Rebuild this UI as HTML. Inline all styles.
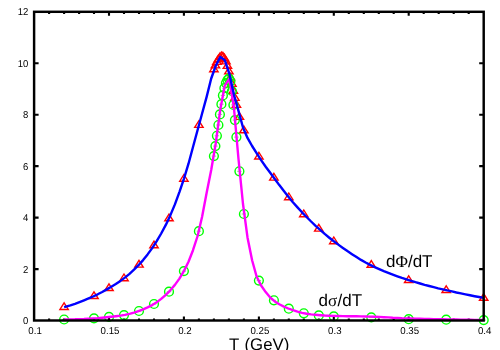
<!DOCTYPE html>
<html><head><meta charset="utf-8"><title>chart</title>
<style>
html,body{margin:0;padding:0;background:#fff;}
body{width:500px;height:350px;overflow:hidden;}
svg{display:block;will-change:transform;}
text{font-family:"Liberation Sans",sans-serif;fill:#000;text-rendering:geometricPrecision;}
.tk{font-size:10px;}
.lb{font-size:17px;}
.cd{stroke-width:0.8;stroke-opacity:0.75;}
.gr{font-family:"Liberation Serif",serif;}
</style></head><body>
<svg width="500" height="350" viewBox="0 0 500 350">
<rect width="500" height="350" fill="#fff"/>
<path d="M49.1,320.5v-2.1M49.1,11.8v2.1M64.1,320.5v-2.1M64.1,11.8v2.1M79.1,320.5v-2.1M79.1,11.8v2.1M94.0,320.5v-2.1M94.0,11.8v2.1M109.0,320.5v-3.9M109.0,11.8v3.9M124.0,320.5v-2.1M124.0,11.8v2.1M139.0,320.5v-2.1M139.0,11.8v2.1M154.0,320.5v-2.1M154.0,11.8v2.1M169.0,320.5v-2.1M169.0,11.8v2.1M183.9,320.5v-3.9M183.9,11.8v3.9M198.9,320.5v-2.1M198.9,11.8v2.1M213.9,320.5v-2.1M213.9,11.8v2.1M228.9,320.5v-2.1M228.9,11.8v2.1M243.9,320.5v-2.1M243.9,11.8v2.1M258.9,320.5v-3.9M258.9,11.8v3.9M273.9,320.5v-2.1M273.9,11.8v2.1M288.8,320.5v-2.1M288.8,11.8v2.1M303.8,320.5v-2.1M303.8,11.8v2.1M318.8,320.5v-2.1M318.8,11.8v2.1M333.8,320.5v-3.9M333.8,11.8v3.9M348.8,320.5v-2.1M348.8,11.8v2.1M363.8,320.5v-2.1M363.8,11.8v2.1M378.8,320.5v-2.1M378.8,11.8v2.1M393.7,320.5v-2.1M393.7,11.8v2.1M408.7,320.5v-3.9M408.7,11.8v3.9M423.7,320.5v-2.1M423.7,11.8v2.1M438.7,320.5v-2.1M438.7,11.8v2.1M453.7,320.5v-2.1M453.7,11.8v2.1M468.7,320.5v-2.1M468.7,11.8v2.1M34.1,269.1h4.5M483.7,269.1h-4.5M34.1,217.6h4.5M483.7,217.6h-4.5M34.1,166.1h4.5M483.7,166.1h-4.5M34.1,114.7h4.5M483.7,114.7h-4.5M34.1,63.2h4.5M483.7,63.2h-4.5" fill="none" stroke="#000" stroke-width="2.1"/>
<g fill="none" stroke="#f00" stroke-width="1.4" stroke-linejoin="miter">
<path transform="translate(64.1,307.1)" d="M0,-4.3 L4.2,2.4 L-4.2,2.4 Z"/><path transform="translate(94.0,296.1)" d="M0,-4.3 L4.2,2.4 L-4.2,2.4 Z"/><path transform="translate(109.0,288.1)" d="M0,-4.3 L4.2,2.4 L-4.2,2.4 Z"/><path transform="translate(124.0,278.3)" d="M0,-4.3 L4.2,2.4 L-4.2,2.4 Z"/><path transform="translate(139.0,264.7)" d="M0,-4.3 L4.2,2.4 L-4.2,2.4 Z"/><path transform="translate(154.0,245.4)" d="M0,-4.3 L4.2,2.4 L-4.2,2.4 Z"/><path transform="translate(169.0,218.4)" d="M0,-4.3 L4.2,2.4 L-4.2,2.4 Z"/><path transform="translate(183.9,178.8)" d="M0,-4.3 L4.2,2.4 L-4.2,2.4 Z"/><path transform="translate(198.9,125.0)" d="M0,-4.3 L4.2,2.4 L-4.2,2.4 Z"/><path transform="translate(213.9,69.3)" d="M0,-4.3 L4.2,2.4 L-4.2,2.4 Z"/><path transform="translate(215.4,65.5)" d="M0,-4.3 L4.2,2.4 L-4.2,2.4 Z"/><path transform="translate(216.9,62.0)" d="M0,-4.3 L4.2,2.4 L-4.2,2.4 Z"/><path transform="translate(218.4,59.3)" d="M0,-4.3 L4.2,2.4 L-4.2,2.4 Z"/><path transform="translate(219.9,57.3)" d="M0,-4.3 L4.2,2.4 L-4.2,2.4 Z"/><path transform="translate(221.4,56.3)" d="M0,-4.3 L4.2,2.4 L-4.2,2.4 Z"/><path transform="translate(222.9,56.6)" d="M0,-4.3 L4.2,2.4 L-4.2,2.4 Z"/><path transform="translate(224.4,58.3)" d="M0,-4.3 L4.2,2.4 L-4.2,2.4 Z"/><path transform="translate(225.9,61.5)" d="M0,-4.3 L4.2,2.4 L-4.2,2.4 Z"/><path transform="translate(227.4,66.0)" d="M0,-4.3 L4.2,2.4 L-4.2,2.4 Z"/><path transform="translate(228.9,71.5)" d="M0,-4.3 L4.2,2.4 L-4.2,2.4 Z"/><path transform="translate(230.4,77.5)" d="M0,-4.3 L4.2,2.4 L-4.2,2.4 Z"/><path transform="translate(231.9,84.0)" d="M0,-4.3 L4.2,2.4 L-4.2,2.4 Z"/><path transform="translate(233.4,91.0)" d="M0,-4.3 L4.2,2.4 L-4.2,2.4 Z"/><path transform="translate(234.9,98.0)" d="M0,-4.3 L4.2,2.4 L-4.2,2.4 Z"/><path transform="translate(236.4,105.0)" d="M0,-4.3 L4.2,2.4 L-4.2,2.4 Z"/><path transform="translate(239.4,117.0)" d="M0,-4.3 L4.2,2.4 L-4.2,2.4 Z"/><path transform="translate(243.9,130.4)" d="M0,-4.3 L4.2,2.4 L-4.2,2.4 Z"/><path transform="translate(258.9,156.6)" d="M0,-4.3 L4.2,2.4 L-4.2,2.4 Z"/><path transform="translate(273.9,177.7)" d="M0,-4.3 L4.2,2.4 L-4.2,2.4 Z"/><path transform="translate(288.8,197.3)" d="M0,-4.3 L4.2,2.4 L-4.2,2.4 Z"/><path transform="translate(303.8,214.3)" d="M0,-4.3 L4.2,2.4 L-4.2,2.4 Z"/><path transform="translate(318.8,228.7)" d="M0,-4.3 L4.2,2.4 L-4.2,2.4 Z"/><path transform="translate(333.8,241.3)" d="M0,-4.3 L4.2,2.4 L-4.2,2.4 Z"/><path transform="translate(371.3,264.9)" d="M0,-4.3 L4.2,2.4 L-4.2,2.4 Z"/><path transform="translate(408.7,280.1)" d="M0,-4.3 L4.2,2.4 L-4.2,2.4 Z"/><path transform="translate(446.2,290.1)" d="M0,-4.3 L4.2,2.4 L-4.2,2.4 Z"/><path transform="translate(483.7,297.9)" d="M0,-4.3 L4.2,2.4 L-4.2,2.4 Z"/>
</g>
<g fill="none" stroke="#0f0" stroke-width="1.4">
<g transform="translate(64.1,319.5)"><circle r="4.4"/><path class="cd" d="M-2.2,0H2.2"/></g><g transform="translate(94.0,318.4)"><circle r="4.4"/><path class="cd" d="M-2.2,0H2.2"/></g><g transform="translate(109.0,316.9)"><circle r="4.4"/><path class="cd" d="M-2.2,0H2.2"/></g><g transform="translate(124.0,315.1)"><circle r="4.4"/><path class="cd" d="M-2.2,0H2.2"/></g><g transform="translate(139.0,311.0)"><circle r="4.4"/><path class="cd" d="M-2.2,0H2.2"/></g><g transform="translate(154.0,304.0)"><circle r="4.4"/><path class="cd" d="M-2.2,0H2.2"/></g><g transform="translate(169.0,291.7)"><circle r="4.4"/><path class="cd" d="M-2.2,0H2.2"/></g><g transform="translate(183.9,271.1)"><circle r="4.4"/><path class="cd" d="M-2.2,0H2.2"/></g><g transform="translate(198.9,231.2)"><circle r="4.4"/><path class="cd" d="M-2.2,0H2.2"/></g><g transform="translate(213.9,156.1)"><circle r="4.4"/><path class="cd" d="M-2.2,0H2.2"/></g><g transform="translate(215.4,146.1)"><circle r="4.4"/><path class="cd" d="M-2.2,0H2.2"/></g><g transform="translate(216.9,135.8)"><circle r="4.4"/><path class="cd" d="M-2.2,0H2.2"/></g><g transform="translate(218.4,125.0)"><circle r="4.4"/><path class="cd" d="M-2.2,0H2.2"/></g><g transform="translate(219.9,114.4)"><circle r="4.4"/><path class="cd" d="M-2.2,0H2.2"/></g><g transform="translate(221.4,104.2)"><circle r="4.4"/><path class="cd" d="M-2.2,0H2.2"/></g><g transform="translate(222.9,95.4)"><circle r="4.4"/><path class="cd" d="M-2.2,0H2.2"/></g><g transform="translate(224.4,88.2)"><circle r="4.4"/><path class="cd" d="M-2.2,0H2.2"/></g><g transform="translate(225.9,83.1)"><circle r="4.4"/><path class="cd" d="M-2.2,0H2.2"/></g><g transform="translate(227.4,80.0)"><circle r="4.4"/><path class="cd" d="M-2.2,0H2.2"/></g><g transform="translate(228.9,78.7)"><circle r="4.4"/><path class="cd" d="M-2.2,0H2.2"/></g><g transform="translate(230.4,81.3)"><circle r="4.4"/><path class="cd" d="M-2.2,0H2.2"/></g><g transform="translate(231.9,91.0)"><circle r="4.4"/><path class="cd" d="M-2.2,0H2.2"/></g><g transform="translate(233.4,104.9)"><circle r="4.4"/><path class="cd" d="M-2.2,0H2.2"/></g><g transform="translate(234.9,120.1)"><circle r="4.4"/><path class="cd" d="M-2.2,0H2.2"/></g><g transform="translate(236.4,137.1)"><circle r="4.4"/><path class="cd" d="M-2.2,0H2.2"/></g><g transform="translate(239.4,171.3)"><circle r="4.4"/><path class="cd" d="M-2.2,0H2.2"/></g><g transform="translate(243.9,214.0)"><circle r="4.4"/><path class="cd" d="M-2.2,0H2.2"/></g><g transform="translate(258.9,280.6)"><circle r="4.4"/><path class="cd" d="M-2.2,0H2.2"/></g><g transform="translate(273.9,300.3)"><circle r="4.4"/><path class="cd" d="M-2.2,0H2.2"/></g><g transform="translate(288.8,308.7)"><circle r="4.4"/><path class="cd" d="M-2.2,0H2.2"/></g><g transform="translate(303.8,313.3)"><circle r="4.4"/><path class="cd" d="M-2.2,0H2.2"/></g><g transform="translate(318.8,315.4)"><circle r="4.4"/><path class="cd" d="M-2.2,0H2.2"/></g><g transform="translate(333.8,316.4)"><circle r="4.4"/><path class="cd" d="M-2.2,0H2.2"/></g><g transform="translate(371.3,317.4)"><circle r="4.4"/><path class="cd" d="M-2.2,0H2.2"/></g><g transform="translate(408.7,319.2)"><circle r="4.4"/><path class="cd" d="M-2.2,0H2.2"/></g><g transform="translate(446.2,319.7)"><circle r="4.4"/><path class="cd" d="M-2.2,0H2.2"/></g><g transform="translate(483.7,320.1)"><circle r="4.4"/><path class="cd" d="M-2.2,0H2.2"/></g>
</g>
<polyline points="64.1,319.5 65.9,319.5 70.4,319.4 75.0,319.3 79.5,319.1 84.0,319.0 88.6,318.7 93.1,318.5 97.7,318.2 102.2,317.7 106.8,317.2 111.3,316.7 115.8,316.2 120.4,315.6 124.9,314.9 129.5,313.9 134.0,312.6 138.5,311.1 143.1,309.4 147.6,307.4 152.2,305.1 156.7,302.3 161.2,298.9 165.8,294.8 170.3,290.3 174.9,284.9 179.4,278.6 183.9,271.1 188.5,261.8 193.0,250.2 197.6,236.0 202.1,216.8 206.7,192.5 211.2,170.0 215.7,143.5 220.3,109.5 224.8,85.5 229.4,78.8 233.9,107.5 238.4,158.0 243.0,204.0 247.5,237.4 252.1,260.2 256.6,276.5 261.1,285.5 265.7,292.1 270.2,297.5 274.8,301.4 279.3,304.2 283.9,306.6 288.4,308.5 292.9,310.2 297.5,311.7 302.0,312.9 306.6,313.7 311.1,314.4 315.6,314.8 320.2,315.2 324.7,315.5 329.3,315.7 333.8,315.9 338.3,316.0 342.9,316.1 347.4,316.2 352.0,316.3 356.5,316.3 361.0,316.4 365.6,316.5 370.1,316.6 374.7,316.8 379.2,316.9 383.8,317.2 388.3,317.4 392.8,317.7 397.4,317.9 401.9,318.2 406.5,318.4 411.0,318.5 415.5,318.6 420.1,318.8 424.6,318.9 429.2,319.0 433.7,319.1 438.2,319.2 442.8,319.3 447.3,319.4 451.9,319.5 456.4,319.5 460.9,319.6 465.5,319.7 470.0,319.8 474.6,319.9 479.1,319.9 483.7,320.0" fill="none" stroke="#f0f" stroke-width="2.4" stroke-linejoin="round"/>
<polyline points="64.1,307.1 65.9,306.6 70.4,305.3 75.0,303.8 79.5,302.1 84.0,300.3 88.6,298.4 93.1,296.5 97.7,294.3 102.2,292.0 106.8,289.4 111.3,286.7 115.8,284.0 120.4,280.9 124.9,277.6 129.5,273.9 134.0,269.7 138.5,265.2 143.1,260.1 147.6,254.4 152.2,248.1 156.7,241.2 161.2,233.5 165.8,224.9 170.3,215.4 174.9,204.4 179.4,192.1 183.9,178.8 188.5,163.7 193.0,147.0 197.6,130.0 202.1,113.5 206.7,96.6 211.2,78.5 215.7,66.0 220.3,56.9 224.8,60.2 229.4,74.0 233.9,94.5 238.4,110.6 243.0,127.5 247.5,137.9 252.1,146.0 256.6,153.1 261.1,160.1 265.7,166.7 270.2,172.8 274.8,179.0 279.3,185.1 283.9,191.0 288.4,196.7 292.9,202.2 297.5,207.4 302.0,212.3 306.6,217.0 311.1,221.5 315.6,225.8 320.2,229.9 324.7,233.9 329.3,237.7 333.8,241.3 338.3,244.6 342.9,247.9 347.4,251.1 352.0,254.2 356.5,257.1 361.0,259.9 365.6,262.5 370.1,264.9 374.7,267.1 379.2,269.1 383.8,271.1 388.3,272.9 392.8,274.6 397.4,276.3 401.9,277.9 406.5,279.4 411.0,280.8 415.5,282.2 420.1,283.5 424.6,284.8 429.2,286.0 433.7,287.1 438.2,288.3 442.8,289.3 447.3,290.4 451.9,291.4 456.4,292.5 460.9,293.4 465.5,294.4 470.0,295.3 474.6,296.2 479.1,297.0 483.7,297.9" fill="none" stroke="#00f" stroke-width="2.4" stroke-linejoin="round"/>
<rect x="34.1" y="11.8" width="449.6" height="308.7" fill="none" stroke="#000" stroke-width="2.45"/>
<text class="tk" transform="translate(28.4,324.0) scale(0.95,1)" text-anchor="end">0</text><text class="tk" transform="translate(28.4,272.6) scale(0.95,1)" text-anchor="end">2</text><text class="tk" transform="translate(28.4,221.1) scale(0.95,1)" text-anchor="end">4</text><text class="tk" transform="translate(28.4,169.6) scale(0.95,1)" text-anchor="end">6</text><text class="tk" transform="translate(28.4,118.2) scale(0.95,1)" text-anchor="end">8</text><text class="tk" transform="translate(28.4,66.8) scale(0.95,1)" text-anchor="end">10</text><text class="tk" transform="translate(28.4,15.3) scale(0.95,1)" text-anchor="end">12</text>
<text class="tk" transform="translate(35.1,334.0) scale(0.97,1)" text-anchor="middle">0.1</text><text class="tk" transform="translate(110.0,334.0) scale(0.97,1)" text-anchor="middle">0.15</text><text class="tk" transform="translate(184.9,334.0) scale(0.97,1)" text-anchor="middle">0.2</text><text class="tk" transform="translate(259.9,334.0) scale(0.97,1)" text-anchor="middle">0.25</text><text class="tk" transform="translate(334.8,334.0) scale(0.97,1)" text-anchor="middle">0.3</text><text class="tk" transform="translate(409.7,334.0) scale(0.97,1)" text-anchor="middle">0.35</text><text class="tk" transform="translate(484.7,334.0) scale(0.97,1)" text-anchor="middle">0.4</text>
<text class="lb" x="229" y="349.5" style="font-size:16.8px">T <tspan dx="0.9">(GeV)</tspan></text>
<text class="lb" x="386" y="267.2">d<tspan class="gr">&#934;</tspan>/dT</text>
<text class="lb" x="318.6" y="306">d<tspan class="gr">&#963;</tspan><tspan dx="0.3">/dT</tspan></text>
</svg>
</body></html>
